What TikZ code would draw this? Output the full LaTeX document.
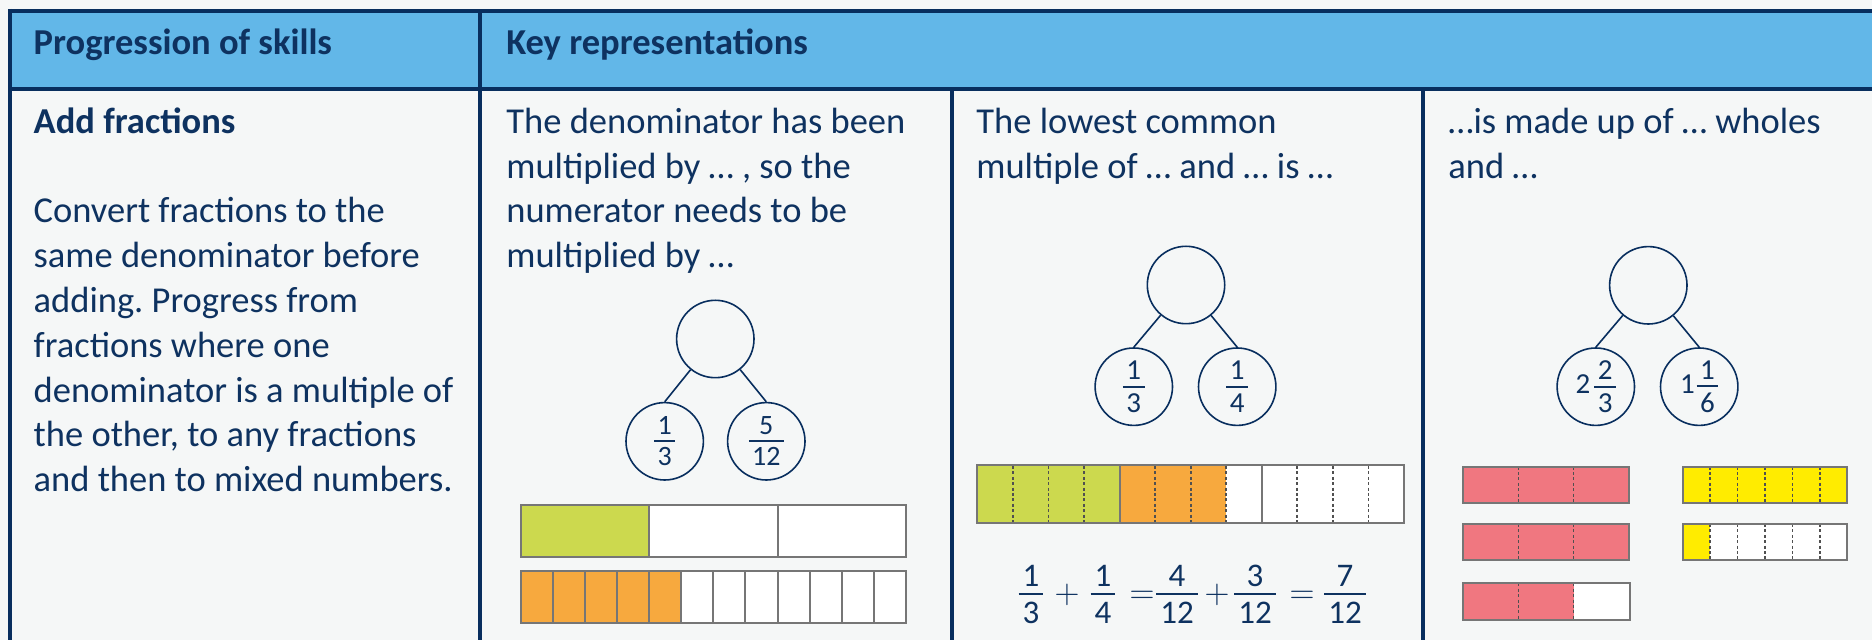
\documentclass[tikz,border=0pt]{standalone}
\usepackage{fontspec}
\setmainfont{Carlito}
\definecolor{tblnavy}{RGB}{8,46,94}
\definecolor{txtnavy}{RGB}{14,50,96}
\definecolor{hdrblue}{RGB}{98,183,232}
\definecolor{bgc}{RGB}{245,247,247}
\definecolor{bargray}{RGB}{118,118,118}
\definecolor{dashgray}{RGB}{80,80,80}
\definecolor{fgreen}{RGB}{204,217,78}
\definecolor{forange}{RGB}{247,169,62}
\definecolor{fred}{RGB}{240,119,128}
\definecolor{fyellow}{RGB}{255,236,0}
\newcommand\frc[2]{\ensuremath{\vcenter{\offinterlineskip\halign{\hfil\kern.12em##\kern.12em\hfil\cr\vphantom{0}#1\cr\noalign{\kern.2em\hrule height.06em\kern.2em}\vphantom{0}#2\cr}}}}
\newcommand\bodyfont{\fontsize{18.25pt}{22.4pt}\selectfont}
\frenchspacing
\begin{document}
\frenchspacing
\begin{tikzpicture}[x=0.5pt,y=-0.5pt,
  txt/.style={anchor=base west, inner sep=0pt, text=txtnavy, font=\bodyfont},
  hdr/.style={txt, font=\bodyfont\bfseries},
  bond/.style={circle, draw=tblnavy, line width=0.8pt, minimum size=38.7pt, inner sep=0pt, text=txtnavy},
  link/.style={draw=tblnavy, line width=0.8pt},
  rule/.style={draw=tblnavy, line width=2pt},
  barline/.style={draw=bargray, line width=1pt},
  dashline/.style={draw=dashgray, line width=0.9pt, dash pattern=on 1.5pt off 1.2pt},
  eqn/.style={anchor=base, inner sep=0pt, text=txtnavy, font=\fontsize{16.5pt}{19pt}\selectfont}]
\fill[bgc] (0,0) rectangle (1872,640);
\useasboundingbox (0,0) rectangle (1872,640);
% header
\fill[hdrblue] (10.3,11) rectangle (1872,88.8);
\draw[rule] (8.3,11) -- (1872,11);
\draw[rule] (10.3,9) -- (10.3,640);
\draw[rule] (10.3,88.8) -- (1872,88.8);
\draw[rule] (480,11) -- (480,640);
\draw[rule] (951.5,88.8) -- (951.5,640);
\draw[rule] (1423,88.8) -- (1423,640);
\node[hdr] (h1) at (33.3,54.3) {Progression of skills};
\node[hdr] (h2) at (506,54.3) {Key representations};
% column 1
\node[hdr] (a0) at (33.3,133.3) {Add fractions};
\node[txt] (a2) at (33.3,222.9) {Convert fractions to the};
\node[txt] (a3) at (33.3,267.7) {same denominator before};
\node[txt] (a4) at (33.3,312.5) {adding. Progress from};
\node[txt] (a5) at (33.3,357.3) {fractions where one};
\node[txt] (a6) at (33.3,402.1) {denominator is a multiple of};
\node[txt] (a7) at (33.3,446.9) {the other, to any fractions};
\node[txt] (a8) at (33.3,491.7) {and then to mixed numbers.};
% column 2
\node[txt] (b0) at (506,133.3) {The denominator has been};
\node[txt] (b1) at (506,178.1) {multiplied by … , so the};
\node[txt] (b2) at (506,222.9) {numerator needs to be};
\node[txt] (b3) at (506,267.7) {multiplied by …};
\node[bond] (bt) at (715.3,339) {};
\node[bond, font=\fontsize{14pt}{16pt}\selectfont] (bl) at (664.7,441.3) {\frc{1}{3}};
\node[bond, font=\fontsize{14pt}{16pt}\selectfont] (br) at (766.3,441.3) {\frc{5}{12}};
\draw[link] (bt) -- (bl.north);
\draw[link] (bt) -- (br.north);
\fill[white] (520.7,505) rectangle (906,556.7);
\fill[fgreen] (520.7,505) rectangle (649.1,556.7);
\foreach \i in {1,2} \draw[barline] ({520.7+\i*128.43},505) -- ({520.7+\i*128.43},556.7);
\draw[barline] (520.7,505) rectangle (906,556.7);
\fill[white] (520.7,570.7) rectangle (906,622.7);
\fill[forange] (520.7,570.7) rectangle ({520.7+5*32.108},622.7);
\foreach \i in {1,...,11} \draw[barline] ({520.7+\i*32.108},570.7) -- ({520.7+\i*32.108},622.7);
\draw[barline] (520.7,570.7) rectangle (906,622.7);
% column 3
\node[txt] (c0) at (976,133.3) {The lowest common};
\node[txt] (c1) at (976,178.1) {multiple of … and … is …};
\node[bond] (ct) at (1186,285) {};
\node[bond, font=\fontsize{14.5pt}{17pt}\selectfont] (cl) at (1133.8,386.7) {\frc{1}{3}};
\node[bond, font=\fontsize{14.5pt}{17pt}\selectfont] (cr) at (1237.2,386.7) {\frc{1}{4}};
\draw[link] (ct) -- (cl.north);
\draw[link] (ct) -- (cr.north);
\fill[white] (977.3,465) rectangle (1404,523.3);
\fill[fgreen] (977.3,465) rectangle ({977.3+4*35.56},523.3);
\fill[forange] ({977.3+4*35.56},465) rectangle ({977.3+7*35.56},523.3);
\foreach \i in {1,2,3,5,6,7,9,10,11} \draw[dashline] ({977.3+\i*35.56},466) -- ({977.3+\i*35.56},522.3);
\foreach \i in {4,8} \draw[barline] ({977.3+\i*35.56},465) -- ({977.3+\i*35.56},523.3);
\draw[barline] (977.3,465) rectangle (1404,523.3);
\node[eqn] (e1) at (1031,603) {\frc{1}{3}};
\node[eqn] (e2) at (1067,603) {$+$};
\node[eqn] (e3) at (1103,603) {\frc{1}{4}};
\node[eqn] (e4) at (1142,603) {$=$};
\node[eqn] (e5) at (1177,603) {\frc{4}{12}};
\node[eqn] (e6) at (1217,603) {$+$};
\node[eqn] (e7) at (1255,603) {\frc{3}{12}};
\node[eqn] (e8) at (1302,603) {$=$};
\node[eqn] (e9) at (1345,603) {\frc{7}{12}};
% column 4
\node[txt] (d0) at (1448,133.3) {…is made up of … wholes};
\node[txt] (d1) at (1448,178.1) {and …};
\node[bond] (dt) at (1648.3,285.3) {};
\node[bond, font=\fontsize{14.5pt}{17pt}\selectfont] (dl) at (1595.8,386.7) {2\kern2pt\frc{2}{3}};
\node[bond, font=\fontsize{14.5pt}{17pt}\selectfont] (dr) at (1699.2,386.7) {1\kern1pt\frc{1}{6}};
\draw[link] (dt) -- (dl.north);
\draw[link] (dt) -- (dr.north);
% red bars
\foreach \ya/\yb in {466.7/503.3, 524/560} {
  \fill[fred] (1463.3,\ya) rectangle (1628.7,\yb);
  \foreach \i in {1,2} \draw[dashline] ({1463.3+\i*55.13},\ya) -- ({1463.3+\i*55.13},\yb);
  \draw[barline] (1463.3,\ya) rectangle (1628.7,\yb);
}
\fill[white] (1463.3,583.3) rectangle (1629.5,620);
\fill[fred] (1463.3,583.3) rectangle ({1463.3+2*55.13},620);
\foreach \i in {1,2} \draw[dashline] ({1463.3+\i*55.13},583.3) -- ({1463.3+\i*55.13},620);
\draw[barline] (1463.3,583.3) rectangle (1629.5,620);
% yellow bars
\fill[fyellow] (1682.7,466.7) rectangle (1847.3,503.3);
\foreach \i in {1,...,5} \draw[dashline] ({1682.7+\i*27.43},466.7) -- ({1682.7+\i*27.43},503.3);
\draw[barline] (1682.7,466.7) rectangle (1847.3,503.3);
\fill[white] (1682.7,524) rectangle (1847.3,560);
\fill[fyellow] (1682.7,524) rectangle (1710.1,560);
\foreach \i in {1,...,5} \draw[dashline] ({1682.7+\i*27.43},524) -- ({1682.7+\i*27.43},560);
\draw[barline] (1682.7,524) rectangle (1847.3,560);
\end{tikzpicture}
\end{document}
